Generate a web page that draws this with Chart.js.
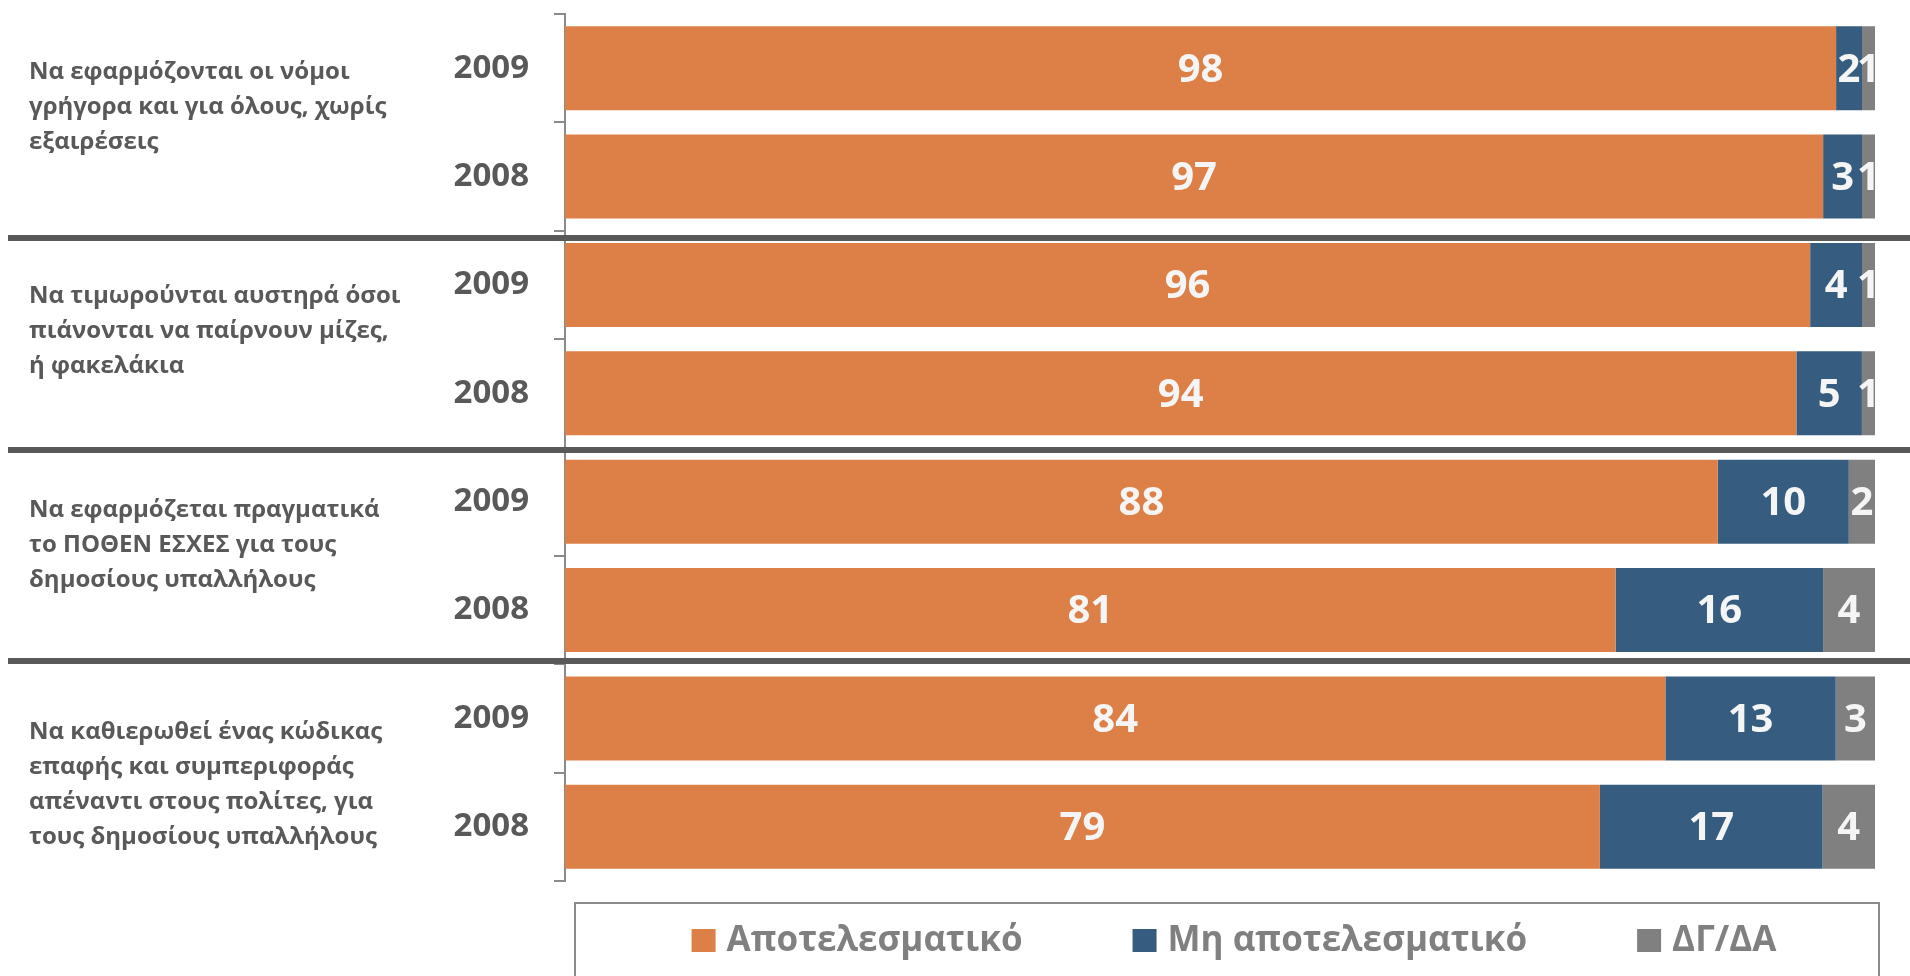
<!DOCTYPE html>
<html>
<head>
<meta charset="utf-8">
<script src="https://cdn.jsdelivr.net/npm/chart.js@4.4.1/dist/chart.umd.min.js"></script>
<style>
  html, body { margin: 0; padding: 0; background: #ffffff; }
  #wrap { width: 1910px; height: 976px; }
</style>
</head>
<body>
<div id="wrap"><canvas id="chart" width="1910" height="976"></canvas></div>
<script>
/* ------------------------------------------------------------
   Data
------------------------------------------------------------ */
var years        = ['2009', '2008', '2009', '2008', '2009', '2008', '2009', '2008'];
var effective    = [98, 97, 96, 94, 88, 81, 84, 79];
var notEffective = [2, 3, 4, 5, 10, 16, 13, 17];
var dontKnow     = [1, 1, 1, 1, 2, 4, 3, 4];

var seriesNames  = ['Αποτελεσματικό', 'Μη αποτελεσματικό', 'ΔΓ/ΔΑ'];

var groupLabels = [
  ['Να εφαρμόζονται οι νόμοι', 'γρήγορα και για όλους, χωρίς', 'εξαιρέσεις'],
  ['Να τιμωρούνται αυστηρά όσοι', 'πιάνονται να παίρνουν μίζες,', 'ή φακελάκια'],
  ['Να εφαρμόζεται πραγματικά', 'το ΠΟΘΕΝ ΕΣΧΕΣ για τους', 'δημοσίους υπαλλήλους'],
  ['Να καθιερωθεί ένας κώδικας', 'επαφής και συμπεριφοράς', 'απέναντι στους πολίτες, για', 'τους δημοσίους υπαλλήλους']
];

/* ------------------------------------------------------------
   Look & layout
------------------------------------------------------------ */
var COLORS = {
  orange: '#dd8047',
  blue:   '#365d7f',
  grey:   '#808080',
  text:   '#595959',
  axis:   '#8a8a8a',
  sep:    '#595959'
};
var FONT = '"Open Sans", "Noto Sans", sans-serif';

var groupLabelShift = [-15, -8, -11, 12];   // px, vertical nudge of group texts
var separatorAt     = [1.57, 3.52, 5.47];   // category units

// 100% stacked: each bar length is its share of the row total
function share(arr) {
  return arr.map(function (v, i) {
    var tot = effective[i] + notEffective[i] + dontKnow[i];
    return v / tot * 100;
  });
}

/* ------------------------------------------------------------
   Plugins
------------------------------------------------------------ */
var valueLabels = {
  id: 'valueLabels',
  afterDatasetsDraw: function (chart) {
    var ctx = chart.ctx;
    ctx.save();
    ctx.font = 'bold 40px ' + FONT;
    ctx.fillStyle = '#f5f5f5';
    ctx.textAlign = 'center';
    ctx.textBaseline = 'middle';
    chart.data.datasets.forEach(function (ds, di) {
      chart.getDatasetMeta(di).data.forEach(function (el, j) {
        var cx = (el.x + el.base) / 2;
        ctx.fillText(String(ds.values[j]), cx, el.y + 2);
      });
    });
    ctx.restore();
  }
};

var groupDecor = {
  id: 'groupDecor',
  afterDraw: function (chart) {
    var ctx = chart.ctx;
    var y = chart.scales.y;
    ctx.save();

    // group texts
    ctx.font = 'bold 24px ' + FONT;
    ctx.fillStyle = COLORS.text;
    ctx.textAlign = 'left';
    ctx.textBaseline = 'middle';
    var lh = 35;
    groupLabels.forEach(function (lines, g) {
      var cy = (y.getPixelForValue(g * 2) + y.getPixelForValue(g * 2 + 1)) / 2 + groupLabelShift[g];
      var top = cy - (lines.length - 1) * lh / 2;
      lines.forEach(function (t, k) {
        ctx.fillText(t, 29, top + k * lh);
      });
    });

    // separators between groups
    ctx.strokeStyle = COLORS.sep;
    ctx.lineWidth = 6;
    separatorAt.forEach(function (v) {
      var py = Math.round(y.getPixelForValue(v));
      ctx.beginPath();
      ctx.moveTo(8, py);
      ctx.lineTo(chart.width, py);
      ctx.stroke();
    });

    // legend box
    var area = chart.chartArea;
    var bx0 = area.left + 10, bx1 = area.right + 4, by0 = 903;
    ctx.strokeStyle = '#8c8c8c';
    ctx.lineWidth = 2;
    ctx.beginPath();
    ctx.moveTo(bx0, chart.height + 5);
    ctx.lineTo(bx0, by0);
    ctx.lineTo(bx1, by0);
    ctx.lineTo(bx1, chart.height + 5);
    ctx.stroke();

    // legend items
    ctx.font = 'bold 35px ' + FONT;
    ctx.textBaseline = 'middle';
    var box = 24, gap = 11, spacing = 110;
    var widths = chart.data.datasets.map(function (ds) {
      return box + gap + ctx.measureText(ds.label).width;
    });
    var total = widths.reduce(function (a, b) { return a + b; }, 0) + spacing * (widths.length - 1);
    var x = (bx0 + bx1) / 2 - total / 2 + 7;
    var cyL = 941;
    chart.data.datasets.forEach(function (ds, i) {
      ctx.fillStyle = ds.backgroundColor;
      ctx.fillRect(x, cyL - 12, box, 23);
      ctx.fillStyle = '#808080';
      ctx.fillText(ds.label, x + box + gap, cyL);
      x += widths[i] + spacing;
    });

    ctx.restore();
  }
};

/* ------------------------------------------------------------
   Chart
------------------------------------------------------------ */
function makeSet(label, vals, color) {
  return {
    label: label,
    data: share(vals),
    values: vals,
    backgroundColor: color,
    categoryPercentage: 1,
    barPercentage: 0.775
  };
}

new Chart(document.getElementById('chart'), {
  type: 'bar',
  data: {
    labels: years,
    datasets: [
      makeSet(seriesNames[0], effective, COLORS.orange),
      makeSet(seriesNames[1], notEffective, COLORS.blue),
      makeSet(seriesNames[2], dontKnow, COLORS.grey)
    ]
  },
  options: {
    indexAxis: 'y',
    responsive: false,
    animation: false,
    layout: { padding: { top: 14, right: 35, bottom: 95, left: 0 } },
    plugins: {
      legend: { display: false },
      tooltip: { enabled: false }
    },
    scales: {
      x: { stacked: true, min: 0, max: 100, display: false },
      y: {
        stacked: true,
        grid: {
          drawOnChartArea: false,
          tickLength: 11,
          color: COLORS.axis,
          lineWidth: 2,
          offset: true
        },
        border: { color: COLORS.axis, width: 2 },
        ticks: {
          font: { family: FONT, size: 33, weight: 'bold' },
          color: COLORS.text,
          padding: 25
        },
        afterFit: function (s) {
          s.width = 565;
          s.paddingTop = 0;
          s.paddingBottom = 0;
        }
      }
    }
  },
  plugins: [valueLabels, groupDecor]
});
</script>
</body>
</html>
